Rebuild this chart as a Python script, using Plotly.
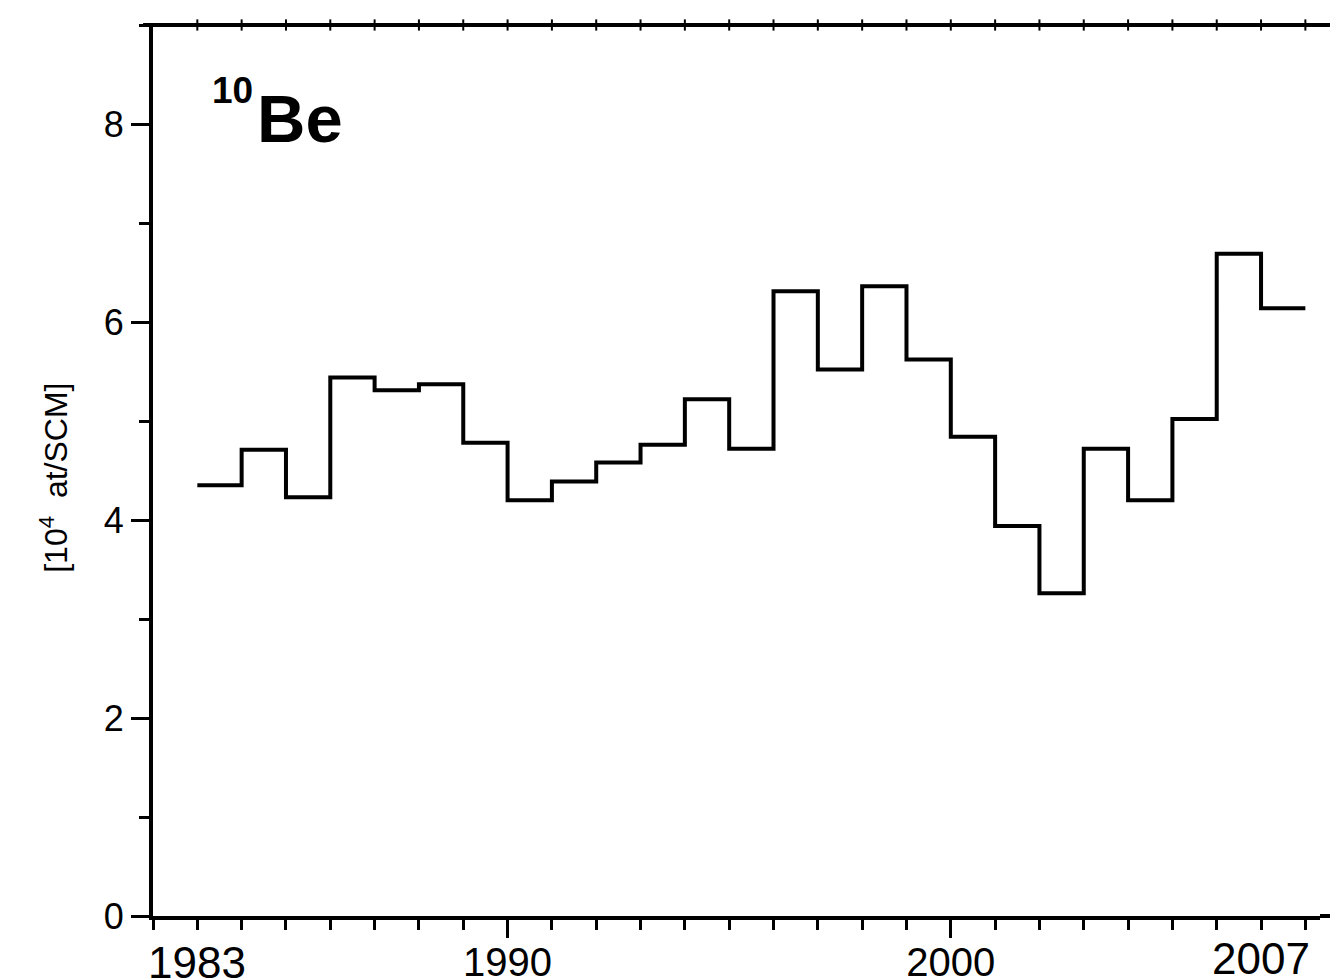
import plotly.graph_objects as go

# Data (annual 10Be values, 10^4 at/SCM), each value spans year -> year+1
years = [1983, 1984, 1985, 1986, 1987, 1988, 1989, 1990, 1991, 1992, 1993, 1994,
         1995, 1996, 1997, 1998, 1999, 2000, 2001, 2002, 2003, 2004, 2005, 2006, 2007]
values = [4.35, 4.71, 4.23, 5.44, 5.31, 5.37, 4.78, 4.20, 4.39, 4.58, 4.76, 5.22,
          4.72, 6.31, 5.52, 6.36, 5.62, 4.84, 3.94, 3.26, 4.72, 4.20, 5.02, 6.69, 6.14]
end_year = 2008
edge_labels = ["1983", "2007"]
top_tick_years = list(range(1983, 2009))

x_step = years + [end_year]
y_step = values + [values[-1]]

FONT = "Arial, Liberation Sans, sans-serif"
Y_MAX = 9

fig = go.Figure()
fig.add_trace(go.Scatter(x=x_step, y=y_step, mode="lines",
                         line=dict(shape="hv", color="black", width=4),
                         showlegend=False, hoverinfo="skip"))
# small tick marks on the top frame line
fig.add_trace(go.Scatter(x=top_tick_years, y=[Y_MAX] * len(top_tick_years), mode="markers",
                         marker=dict(symbol="line-ns", size=8, color="black",
                                     line=dict(width=2, color="black")),
                         cliponaxis=False, showlegend=False, hoverinfo="skip"))

xr = [1982, 2008.33]
fig.update_layout(
    width=1330, height=979,
    margin=dict(l=153, r=10, t=25, b=63, autoexpand=False),
    paper_bgcolor="white", plot_bgcolor="white",
    font=dict(family=FONT, color="black"),
    xaxis=dict(range=xr, showgrid=False, zeroline=False, automargin=False,
               showline=True, linewidth=4, linecolor="black",
               tick0=1980, dtick=10, ticks="outside", ticklen=18, tickwidth=3,
               tickcolor="black", tickfont=dict(size=40, family=FONT),
               ticklabelstandoff=-10,
               minor=dict(dtick=1, tick0=1982, ticks="outside", ticklen=10,
                          tickwidth=3, tickcolor="black", showgrid=False)),
    yaxis=dict(range=[0, Y_MAX], showgrid=False, zeroline=False, automargin=False,
               showline=True, linewidth=4, linecolor="black",
               tick0=0, dtick=2, ticks="outside", ticklen=18, tickwidth=3,
               tickcolor="black", tickfont=dict(size=36, family=FONT),
               minor=dict(dtick=1, ticks="outside", ticklen=10, tickwidth=3,
                          tickcolor="black", showgrid=False)),
    shapes=[
        dict(type="line", xref="paper", yref="paper", x0=-0.0085, x1=1.02,
             y0=1, y1=1, line=dict(color="black", width=4)),
        dict(type="line", xref="paper", yref="paper", x0=1.0, x1=1.02,
             y0=0, y1=0, line=dict(color="black", width=4)),
    ],
    annotations=[
        dict(text="<b>10</b>", x=1983.28, y=8.57, xref="x", yref="y",
             xanchor="left", yanchor="top", showarrow=False,
             font=dict(size=37, family=FONT, color="black")),
        dict(text="<b>Be</b>", x=1984.31, y=8.45, xref="x", yref="y",
             xanchor="left", yanchor="top", showarrow=False,
             font=dict(size=67, family=FONT, color="black")),
        dict(text="[10<sup>4</sup>  at/SCM]", x=-0.085, y=0.4916, xref="paper", yref="paper",
             xanchor="center", yanchor="middle", textangle=-90, showarrow=False,
             font=dict(size=32, family=FONT, color="black")),
        dict(text=edge_labels[0], x=1983, y=-0.022, xref="x", yref="paper",
             xanchor="center", yanchor="top", showarrow=False,
             font=dict(size=44, family=FONT, color="black")),
        dict(text=edge_labels[1], x=2007, y=-0.018, xref="x", yref="paper",
             xanchor="center", yanchor="top", showarrow=False,
             font=dict(size=44, family=FONT, color="black")),
    ],
)

fig.write_html("out.html")
